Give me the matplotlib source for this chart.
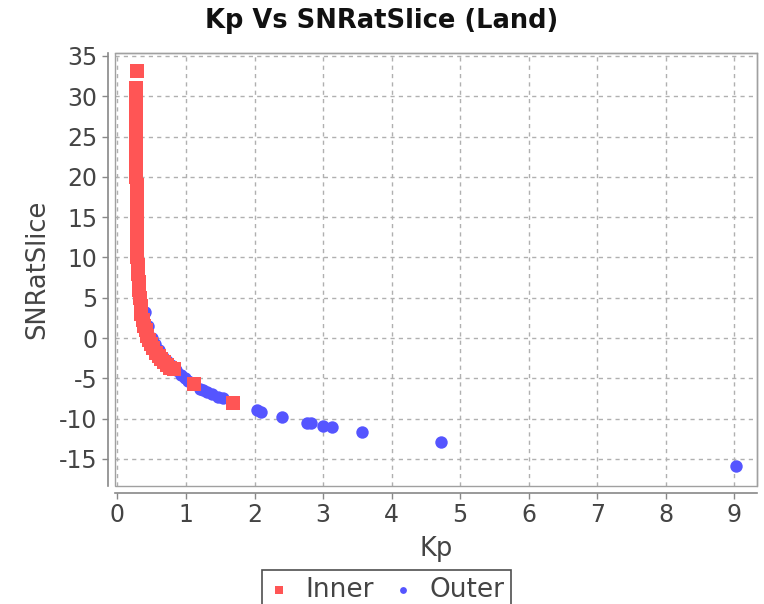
import matplotlib
matplotlib.use("Agg")
import matplotlib.pyplot as plt
from matplotlib.patches import Rectangle

plt.rcParams['font.family'] = ['DejaVu Sans']
plt.rcParams['axes.unicode_minus'] = False

title = "Kp Vs SNRatSlice (Land)"
xlabel = "Kp"
ylabel = "SNRatSlice"
series_names = ["Inner", "Outer"]

inner_kp = [0.28, 0.27, 0.27, 0.27, 0.27, 0.27, 0.27, 0.27, 0.27, 0.27, 0.27,
            0.27, 0.27, 0.28, 0.28, 0.28, 0.28, 0.28, 0.28, 0.28, 0.29, 0.29,
            0.29, 0.30, 0.30, 0.31, 0.32, 0.33, 0.34, 0.35, 0.37, 0.39, 0.41,
            0.43, 0.46, 0.49, 0.52, 0.56, 0.60, 0.64, 0.68, 0.72, 0.77, 0.82,
            1.12, 1.68]
inner_snr = [33.1, 31.0, 30.0, 29.0, 28.0, 27.0, 26.0, 25.0, 24.0, 23.0, 22.0,
             21.0, 20.0, 19.0, 18.0, 17.0, 16.0, 15.0, 14.0, 13.0, 12.0, 11.0,
             10.0, 9.0, 8.0, 7.0, 6.0, 5.0, 4.0, 3.0, 2.2, 1.5, 1.0,
             0.3, -0.3, -0.8, -1.3, -1.8, -2.2, -2.6, -3.0, -3.3, -3.7, -3.9,
             -5.7, -8.1]

outer_kp = [0.40, 0.45, 0.50, 0.55, 0.60, 0.66, 0.72, 0.78, 0.85, 0.92, 0.98,
            1.03, 1.20, 1.25, 1.30, 1.38, 1.47, 1.54, 2.03, 2.10, 2.40, 2.76,
            2.83, 3.00, 3.13, 3.57, 4.72, 9.03]
outer_snr = [3.2, 1.5, 0.0, -0.8, -1.5, -2.3, -2.9, -3.4, -4.0, -4.6, -5.0,
             -5.3, -6.3, -6.5, -6.7, -7.0, -7.3, -7.5, -8.9, -9.2, -9.8, -10.5,
             -10.5, -10.9, -11.0, -11.7, -12.9, -15.9]

xticks = [0, 1, 2, 3, 4, 5, 6, 7, 8, 9]
yticks = [-15, -10, -5, 0, 5, 10, 15, 20, 25, 30, 35]

W, H = 764, 604
fig = plt.figure(figsize=(W / 100, H / 100), dpi=100)
ax = fig.add_axes([115 / W, 1 - 486 / H, (757 - 115) / W, (486 - 53) / H])

red = "#FF5555"
blue = "#5555FF"

ax.scatter(outer_kp, outer_snr, s=80, marker='o', color=blue, linewidths=0,
           zorder=3, label=series_names[1])
ax.scatter(inner_kp, inner_snr, s=100, marker='s', color=red, linewidths=0,
           zorder=4, label=series_names[0])

ax.set_xlim(-0.036, 9.33)
ax.set_ylim(-18.36, 35.36)
ax.set_xticks(xticks)
ax.set_yticks(yticks)

ax.grid(True, color="#b0b0b0", linestyle=(0, (3, 3)), linewidth=1)
ax.set_axisbelow(True)

for s in ['top', 'right']:
    ax.spines[s].set_color("#a0a0a0")
    ax.spines[s].set_linewidth(1)
for s in ['left', 'bottom']:
    ax.spines[s].set_position(('outward', 5))
    ax.spines[s].set_color("#888888")
    ax.spines[s].set_linewidth(1.2)
ax.add_patch(Rectangle((0, 0), 1, 1, transform=ax.transAxes, fill=False,
                       edgecolor="#a0a0a0", linewidth=1, clip_on=False, zorder=5))

ax.tick_params(axis='both', colors="#888888", labelcolor="#444444",
               labelsize=17, length=4, width=1)
ax.set_xlabel(xlabel, fontsize=18.5, color="#444444", labelpad=6)
ax.set_ylabel(ylabel, fontsize=18.5, color="#444444", labelpad=6)

fig.suptitle(title, x=0.5, y=1 - 8 / H, va='top', fontsize=18.5,
             fontweight='bold', color="#111111")

h, l = ax.get_legend_handles_labels()
leg = fig.legend(h[::-1], l[::-1], loc='upper center',
                 bbox_to_anchor=(386.5 / W, 1 - 570 / H), ncol=2,
                 fontsize=19, frameon=True, fancybox=False, edgecolor="#222222",
                 handletextpad=0.6, columnspacing=0.7, borderpad=0.25,
                 borderaxespad=0, handlelength=0.8, markerscale=0.55)
leg.get_frame().set_linewidth(1.2)
for t in leg.get_texts():
    t.set_color("#444444")

fig.savefig("out.png", dpi=100)
